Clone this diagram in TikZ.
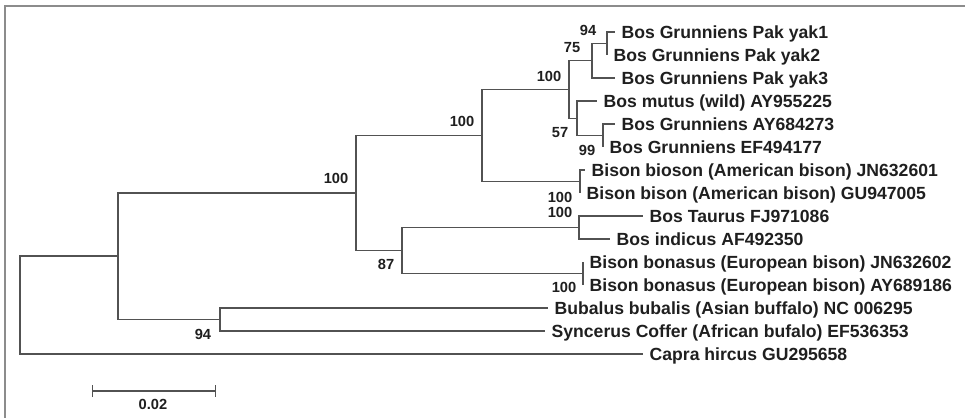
\documentclass[tikz,border=0pt]{standalone}
\usepackage{fontspec}
\setmainfont{Liberation Sans}
\usetikzlibrary{arrows.meta}

\begin{document}
\begin{tikzpicture}[
    x=0.75pt, y=-0.75pt,
    font=\bfseries\fontsize{13.2}{15}\selectfont,
    branch/.style={draw=black!68, line width=1.1pt},
    taxon/.style={anchor=west, inner xsep=4.8pt, inner ysep=0pt, text height=9.45pt, text depth=0pt, text=black!88},
    boot/.style={font=\bfseries\fontsize{11}{12}\selectfont, inner sep=0pt, text height=7.9pt, text depth=0pt, text=black!88},
    frame/.style={draw=black!45, line width=1pt},
    scalebar/.style={branch, {Bar[width=9pt]}-{Bar[width=9pt]}}
]
    \useasboundingbox (0,0) rectangle (965,418);
    \draw[frame] (965,6) -- (5,6) -- (5,418);

    % internal nodes
    \coordinate (root) at (20,305);
    \coordinate (bovinae) at (118,256);
    \coordinate (buffalo) at (220,319.5);
    \coordinate (bosbison) at (356,193);
    \coordinate (yakbison) at (482,135.5);
    \coordinate (taurusbonasus) at (402,250.5);
    \coordinate (yak) at (569,89.5);
    \coordinate (pakyak) at (592,60.75);
    \coordinate (pakyak12) at (607,43.5);
    \coordinate (mutusgrun) at (577,118.25);
    \coordinate (grunniens) at (603,135.5);
    \coordinate (americanbison) at (580,181.5);
    \coordinate (taurusindicus) at (579,227.5);
    \coordinate (europeanbison) at (583,273.5);

    % taxa
    \node[taxon] (yakA) at (615,32) {Bos Grunniens Pak yak1};
    \node[taxon] (yakB) at (607,55) {Bos Grunniens Pak yak2};
    \node[taxon] (yakC) at (615,78) {Bos Grunniens Pak yak3};
    \node[taxon] (mutus) at (597,101) {Bos mutus (wild) AY955225};
    \node[taxon] (grunA) at (615,124) {Bos Grunniens AY684273};
    \node[taxon] (grunB) at (603,147) {Bos Grunniens EF494177};
    \node[taxon] (bisonA) at (585,170) {Bison bioson (American bison) JN632601};
    \node[taxon] (bisonB) at (580,193) {Bison bison (American bison) GU947005};
    \node[taxon] (taurus) at (643,216) {Bos Taurus FJ971086};
    \node[taxon] (indicus) at (610,239) {Bos indicus AF492350};
    \node[taxon] (bonasusA) at (583,262) {Bison bonasus (European bison) JN632602};
    \node[taxon] (bonasusB) at (583,285) {Bison bonasus (European bison) AY689186};
    \node[taxon] (bubalus) at (548,308) {Bubalus bubalis (Asian buffalo) NC 006295};
    \node[taxon] (syncerus) at (545,331) {Syncerus Coffer (African bufalo) EF536353};
    \node[taxon] (capra) at (643,354) {Capra hircus GU295658};

    % bootstrap values
    \node[boot] (bsA) at (588,30) {94};
    \node[boot] (bsB) at (572,47) {75};
    \node[boot] (bsC) at (549,76) {100};
    \node[boot] (bsD) at (462,121) {100};
    \node[boot] (bsE) at (560,132) {57};
    \node[boot] (bsF) at (587,150) {99};
    \node[boot] (bsG) at (336,178) {100};
    \node[boot] (bsH) at (560,197) {100};
    \node[boot] (bsI) at (560,212) {100};
    \node[boot] (bsJ) at (386,264) {87};
    \node[boot] (bsK) at (564,287) {100};
    \node[boot] (bsL) at (203,334) {94};

    \draw[branch] (root) |- (bovinae);
    \draw[branch] (root) |- (capra.west);
    \draw[branch] (bovinae) |- (bosbison);
    \draw[branch] (bovinae) |- (buffalo);
    \draw[branch] (buffalo) |- (bubalus.west);
    \draw[branch] (buffalo) |- (syncerus.west);
    \draw[branch] (bosbison) |- (yakbison);
    \draw[branch] (bosbison) |- (taurusbonasus);
    \draw[branch] (yakbison) |- (yak);
    \draw[branch] (yakbison) |- (americanbison);
    \draw[branch] (americanbison) |- (bisonA.west);
    \draw[branch] (americanbison) |- (bisonB.west);
    \draw[branch] (yak) |- (pakyak);
    \draw[branch] (yak) |- (mutusgrun);
    \draw[branch] (pakyak) |- (pakyak12);
    \draw[branch] (pakyak) |- (yakC.west);
    \draw[branch] (pakyak12) |- (yakA.west);
    \draw[branch] (pakyak12) |- (yakB.west);
    \draw[branch] (mutusgrun) |- (mutus.west);
    \draw[branch] (mutusgrun) |- (grunniens);
    \draw[branch] (grunniens) |- (grunA.west);
    \draw[branch] (grunniens) |- (grunB.west);
    \draw[branch] (taurusbonasus) |- (taurusindicus);
    \draw[branch] (taurusbonasus) |- (europeanbison);
    \draw[branch] (taurusindicus) |- (taurus.west);
    \draw[branch] (taurusindicus) |- (indicus.west);
    \draw[branch] (europeanbison) |- (bonasusA.west);
    \draw[branch] (europeanbison) |- (bonasusB.west);

    % scale bar
    \coordinate (sbleft) at (92,391);
    \coordinate (sbright) at (216,391);
    \draw[scalebar] (sbleft) -- (sbright);
    \node[boot] (sblabel) at (153,404) {0.02};
\end{tikzpicture}
\end{document}
